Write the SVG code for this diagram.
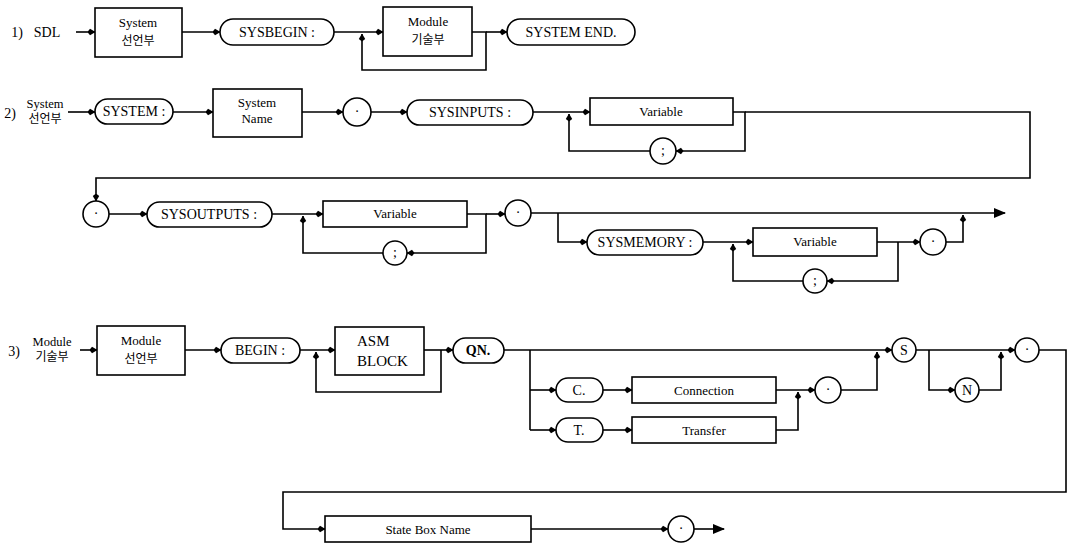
<svg xmlns="http://www.w3.org/2000/svg" width="1074" height="549" viewBox="0 0 1074 549">
<style>
.b{fill:#fff;stroke:#000;stroke-width:1.6}
.c{fill:none;stroke:#000;stroke-width:1.6}
text{font-family:"Liberation Serif","Noto Sans CJK KR",serif;fill:#000;text-anchor:middle}
.t{font-size:14px}
.s{font-size:13px}
.m{font-size:12.5px}
.k{font-family:"Noto Sans CJK KR","Liberation Serif",sans-serif;font-size:12px}
.l{text-anchor:start;font-size:15px}
</style>
<defs>
<marker id="a" viewBox="0 0 8 8" refX="7.5" refY="4" markerWidth="8" markerHeight="8" markerUnits="userSpaceOnUse" orient="auto">
<path d="M0,4 L2.5,0.8 L8,4 L2.5,7.2 Z" fill="#000"/>
</marker>
<marker id="e" viewBox="0 0 12 10" refX="11" refY="5" markerWidth="12" markerHeight="10" markerUnits="userSpaceOnUse" orient="auto">
<path d="M0,0 L12,5 L0,10 Z" fill="#000"/>
</marker>
</defs>
<rect width="1074" height="549" fill="#fff"/>

<g id="connectors" class="c">
<!-- row 1 -->
<path d="M76,32 H95" marker-end="url(#a)"/>
<path d="M182,32 H220" marker-end="url(#a)"/>
<path d="M334,32 H383" marker-end="url(#a)"/>
<path d="M472,32 H486 V70 H362 V34" marker-end="url(#a)"/>
<path d="M486,32 H507" marker-end="url(#a)"/>
<!-- row 2 -->
<path d="M68,112 H95" marker-end="url(#a)"/>
<path d="M173,112 H213" marker-end="url(#a)"/>
<path d="M302,112 H343" marker-end="url(#a)"/>
<path d="M371,112 H407" marker-end="url(#a)"/>
<path d="M533,112 H590" marker-end="url(#a)"/>
<path d="M733,112 H745 V151 H676" marker-end="url(#a)"/>
<path d="M650,151 H569 V114" marker-end="url(#a)"/>
<path d="M745,112 H1030 V178 H96 V201" marker-end="url(#a)"/>
<!-- row 3 -->
<path d="M109,214 H147" marker-end="url(#a)"/>
<path d="M272,214 H323" marker-end="url(#a)"/>
<path d="M467,214 H486 V253 H407" marker-end="url(#a)"/>
<path d="M383,253 H303 V216" marker-end="url(#a)"/>
<path d="M486,214 H505" marker-end="url(#a)"/>
<path d="M531,213 H1005" marker-end="url(#e)"/>
<path d="M558,213 V242 H587" marker-end="url(#a)"/>
<path d="M703,242 H753" marker-end="url(#a)"/>
<path d="M877,242 H920" marker-end="url(#a)"/>
<path d="M946,242 H963 V215" marker-end="url(#a)"/>
<path d="M898,242 V281 H827" marker-end="url(#a)"/>
<path d="M803,281 H733 V244" marker-end="url(#a)"/>
<!-- row 4 -->
<path d="M80,350 H97" marker-end="url(#a)"/>
<path d="M185,350 H221" marker-end="url(#a)"/>
<path d="M300,350 H335" marker-end="url(#a)"/>
<path d="M424,350 H453" marker-end="url(#a)"/>
<path d="M441,350 V392 H316 V352" marker-end="url(#a)"/>
<path d="M504,350 H892" marker-end="url(#a)"/>
<path d="M530,350 V430"/>
<path d="M530,390 H556" marker-end="url(#a)"/>
<path d="M530,430 H556" marker-end="url(#a)"/>
<path d="M603,390 H632" marker-end="url(#a)"/>
<path d="M603,430 H632" marker-end="url(#a)"/>
<path d="M776,390 H815" marker-end="url(#a)"/>
<path d="M776,430 H798 V392" marker-end="url(#a)"/>
<path d="M841,390 H877 V352" marker-end="url(#a)"/>
<path d="M916,350 H1015" marker-end="url(#a)"/>
<path d="M929,350 V390 H955" marker-end="url(#a)"/>
<path d="M979,390 H1001 V352" marker-end="url(#a)"/>
<path d="M1039,350 H1066 V492 H283 V529 H325" marker-end="url(#a)"/>
<path d="M531,529 H668" marker-end="url(#a)"/>
<path d="M694,529 H724" marker-end="url(#e)"/>
</g>

<g id="labels">
<text class="t" x="17" y="37">1)</text>
<text class="t" x="47" y="37">SDL</text>
<text class="t" x="10" y="118">2)</text>
<text class="m" x="45" y="108">System</text>
<text class="k" x="45" y="123">선언부</text>
<text class="t" x="14" y="356">3)</text>
<text class="m" x="52" y="346">Module</text>
<text class="k" x="52" y="361">기술부</text>
</g>

<g id="n1"><rect class="b" x="95" y="8" width="87" height="49"/><text class="s" x="138" y="27">System</text><text class="k" x="138" y="45">선언부</text></g>
<g id="n2"><rect class="b" x="220" y="19" width="114" height="26" rx="13"/><text class="t" x="277" y="37">SYSBEGIN :</text></g>
<g id="n3"><rect class="b" x="383" y="7" width="89" height="49"/><text class="s" x="428" y="26">Module</text><text class="k" x="428" y="44">기술부</text></g>
<g id="n4"><rect class="b" x="507" y="19" width="128" height="26" rx="13"/><text class="t" x="571" y="37">SYSTEM END.</text></g>

<g id="n5"><rect class="b" x="95" y="99" width="78" height="25" rx="12.5"/><text class="t" x="134" y="116">SYSTEM :</text></g>
<g id="n6"><rect class="b" x="213" y="89" width="89" height="48"/><text class="s" x="257" y="107">System</text><text class="s" x="257" y="123">Name</text></g>
<g id="n7"><circle class="b" cx="357" cy="112" r="14"/><text class="t" x="357" y="116">·</text></g>
<g id="n8"><rect class="b" x="407" y="100" width="126" height="25" rx="12.5"/><text class="t" x="470" y="117">SYSINPUTS :</text></g>
<g id="n9"><rect class="b" x="590" y="98" width="143" height="27"/><text class="s" x="661" y="116">Variable</text></g>
<g id="n10"><circle class="b" cx="663" cy="151" r="13"/><text class="t" x="663" y="155">;</text></g>

<g id="n11"><circle class="b" cx="96" cy="214" r="13"/><text class="t" x="96" y="218">·</text></g>
<g id="n12"><rect class="b" x="147" y="202" width="125" height="25" rx="12.5"/><text class="t" x="209" y="219">SYSOUTPUTS :</text></g>
<g id="n13"><rect class="b" x="323" y="201" width="144" height="26"/><text class="s" x="395" y="218">Variable</text></g>
<g id="n14"><circle class="b" cx="395" cy="253" r="12"/><text class="t" x="395" y="257">;</text></g>
<g id="n15"><circle class="b" cx="518" cy="213" r="13"/><text class="t" x="518" y="217">·</text></g>
<g id="n16"><rect class="b" x="587" y="230" width="116" height="25" rx="12.5"/><text class="t" x="645" y="247">SYSMEMORY :</text></g>
<g id="n17"><rect class="b" x="753" y="228" width="124" height="28"/><text class="s" x="815" y="246">Variable</text></g>
<g id="n18"><circle class="b" cx="933" cy="242" r="13"/><text class="t" x="933" y="246">·</text></g>
<g id="n19"><circle class="b" cx="815" cy="281" r="12"/><text class="t" x="815" y="285">;</text></g>

<g id="n20"><rect class="b" x="97" y="326" width="88" height="49"/><text class="s" x="141" y="345">Module</text><text class="k" x="141" y="363">선언부</text></g>
<g id="n21"><rect class="b" x="221" y="338" width="79" height="25" rx="12.5"/><text class="t" x="260" y="355">BEGIN :</text></g>
<g id="n22"><rect class="b" x="335" y="327" width="89" height="48"/><text class="l" x="357" y="346">ASM</text><text class="l" x="357" y="366">BLOCK</text></g>
<g id="n23"><rect class="b" x="453" y="338" width="51" height="25" rx="12.5"/><text class="t" x="478" y="355" font-weight="bold">QN.</text></g>
<g id="n24"><rect class="b" x="556" y="378" width="47" height="24" rx="12"/><text class="t" x="579" y="395">C.</text></g>
<g id="n25"><rect class="b" x="632" y="377" width="144" height="26"/><text class="s" x="704" y="395">Connection</text></g>
<g id="n26"><rect class="b" x="556" y="418" width="47" height="24" rx="12"/><text class="t" x="579" y="435">T.</text></g>
<g id="n27"><rect class="b" x="632" y="417" width="144" height="26"/><text class="s" x="704" y="435">Transfer</text></g>
<g id="n28"><circle class="b" cx="828" cy="390" r="13"/><text class="t" x="828" y="394">·</text></g>
<g id="n29"><circle class="b" cx="904" cy="350" r="12"/><text class="t" x="904" y="355">S</text></g>
<g id="n30"><circle class="b" cx="967" cy="390" r="12"/><text class="t" x="967" y="395">N</text></g>
<g id="n31"><circle class="b" cx="1027" cy="350" r="12"/><text class="t" x="1027" y="354">·</text></g>
<g id="n32"><rect class="b" x="325" y="516" width="206" height="26"/><text class="s" x="428" y="534">State Box Name</text></g>
<g id="n33"><circle class="b" cx="681" cy="529" r="13"/><text class="t" x="681" y="533">·</text></g>
</svg>
